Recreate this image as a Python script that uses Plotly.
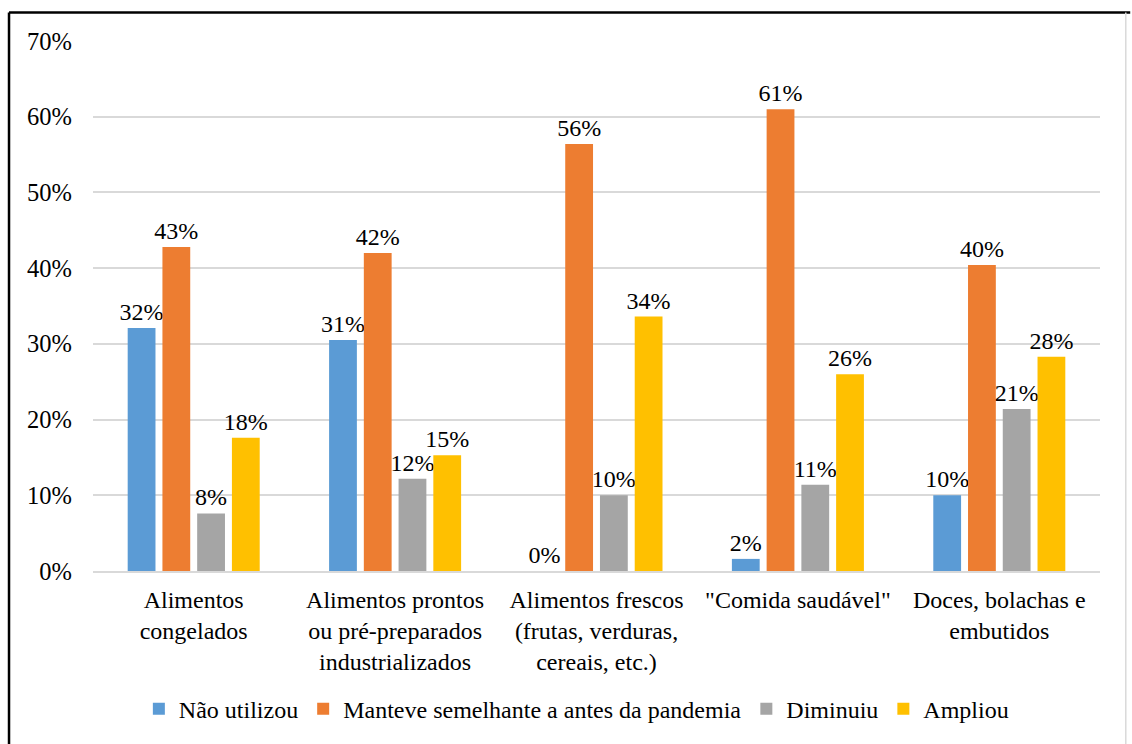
import plotly.graph_objects as go

categories = [
    "Alimentos<br>congelados",
    "Alimentos prontos<br>ou pré-preparados<br>industrializados",
    "Alimentos frescos<br>(frutas, verduras,<br>cereais, etc.)",
    "\"Comida saudável\"",
    "Doces, bolachas e<br>embutidos",
]
series_names = ["Não utilizou", "Manteve semelhante a antes da pandemia", "Diminuiu", "Ampliou"]
nao_utilizou = [0.321, 0.305, 0.0, 0.016, 0.100]
manteve = [0.428, 0.420, 0.564, 0.610, 0.404]
diminuiu = [0.076, 0.122, 0.100, 0.114, 0.214]
ampliou = [0.176, 0.153, 0.336, 0.260, 0.283]
colors = ["#5B9BD5", "#ED7D31", "#A5A5A5", "#FFC000"]
y_ticks = [0, 0.1, 0.2, 0.3, 0.4, 0.5, 0.6, 0.7]

FONT = "Liberation Serif"
FS = 24

fig = go.Figure()
for name, vals, col in zip(series_names, [nao_utilizou, manteve, diminuiu, ampliou], colors):
    fig.add_trace(go.Bar(
        x=categories, y=vals, name=name,
        marker=dict(color=col, line=dict(width=0)),
        text=vals, texttemplate="%{y:.0%}", textposition="outside",
        constraintext="none",
        textfont=dict(family=FONT, size=FS, color="#000000"),
        cliponaxis=False,
    ))

fig.update_layout(
    width=1132, height=744,
    margin=dict(l=93, r=32, t=41, b=171),
    paper_bgcolor="white", plot_bgcolor="white",
    barmode="group", bargap=0.31, bargroupgap=0.2,
    font=dict(family=FONT, size=FS, color="#000000"),
    showlegend=True,
    legend=dict(orientation="h", x=0.48, xanchor="center", y=-0.218, yanchor="top",
                font=dict(family=FONT, size=FS, color="#000000"), itemwidth=30, traceorder="normal"),
    xaxis=dict(showline=True, linecolor="#d9d9d9", linewidth=1.5, ticks="",
               tickfont=dict(family=FONT, size=FS, color="#000000"), showgrid=False,
               zeroline=False, ticklabelstandoff=6),
    yaxis=dict(range=[0, 0.7], tickvals=y_ticks, tickformat=".0%",
               showgrid=True, gridcolor="#d9d9d9", gridwidth=1.5,
               zeroline=False, showline=False, ticks="", ticklabelstandoff=20,
               tickfont=dict(family=FONT, size=FS + 0.5, color="#000000")),
    shapes=[
        dict(type="line", xref="paper", yref="paper", x0=-0.0834, x1=1.03, y0=1.054, y1=1.054,
             line=dict(color="black", width=2.5)),
        dict(type="line", xref="paper", yref="paper", x0=-0.0834, x1=-0.0834, y0=1.054, y1=-0.33,
             line=dict(color="black", width=2.5)),
        dict(type="line", xref="paper", yref="paper", x0=1.0256, x1=1.0256, y0=1.054, y1=-0.33,
             line=dict(color="#d9d9d9", width=1.5)),
    ],
)

fig.write_html("out.html")
